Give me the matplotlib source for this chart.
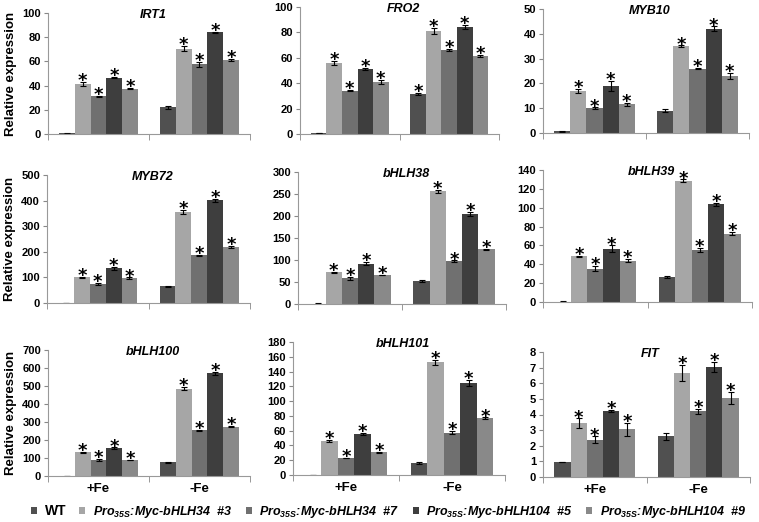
import numpy as np
import matplotlib
matplotlib.use("Agg")
import matplotlib.pyplot as plt

plt.rcParams['font.family'] = ['Liberation Sans', 'DejaVu Sans']
plt.rcParams['mathtext.fontset'] = 'custom'
plt.rcParams['mathtext.it'] = 'Liberation Sans:italic:bold'
plt.rcParams['mathtext.rm'] = 'Liberation Sans:italic:bold'
plt.rcParams['mathtext.default'] = 'it'

# conditions and lines
conditions = ["+Fe", "-Fe"]
lines = ["WT",
         r"Pro$_{35S}$:Myc-bHLH34  #3",
         r"Pro$_{35S}$:Myc-bHLH34  #7",
         r"Pro$_{35S}$:Myc-bHLH104  #5",
         r"Pro$_{35S}$:Myc-bHLH104  #9"]
colors = ["#505050", "#a6a6a6", "#707070", "#3e3e3e", "#898989"]

# values: 5 lines under +Fe, then 5 lines under -Fe
IRT1 = [0.5, 41.5, 31, 46.5, 37.5, 22, 70.5, 57.5, 84, 61]
IRT1_err = [0.2, 1.5, 0.5, 0.5, 0.5, 1, 2, 2, 0.5, 1]
FRO2 = [1, 56, 34, 51.5, 41, 31.5, 81, 66, 84.5, 61.5]
FRO2_err = [0.1, 1.5, 0.5, 0.8, 1.5, 0.7, 2.5, 1, 1.5, 0.8]
MYB10 = [0.7, 17, 10, 19, 11.5, 9, 35, 26, 42, 23]
MYB10_err = [0.1, 0.7, 0.3, 2, 0.7, 0.7, 0.3, 0.2, 1, 1.2]
MYB72 = [1, 101, 76, 135, 97, 65, 356, 186, 402, 218]
MYB72_err = [0.2, 2, 4, 5, 3, 2, 8, 3, 6, 5]
bHLH38 = [1, 72, 58, 92, 66, 52, 256, 97, 205, 124]
bHLH38_err = [0.2, 1, 4, 4, 1, 3, 4, 2, 4, 2]
bHLH39 = [0.5, 48.5, 35.5, 56.5, 44, 26.5, 128.5, 55.5, 103.5, 72.5]
bHLH39_err = [0.1, 0.5, 3, 3.5, 2, 0.7, 1.5, 2, 2, 1.5]
bHLH100 = [1, 131, 91, 155, 89, 76, 485, 253, 571, 273]
bHLH100_err = [0.2, 3, 5, 4, 2, 1, 8, 3, 8, 3]
bHLH101 = [0.3, 45.5, 23, 55.5, 30.5, 16, 152.5, 57.5, 124.5, 77]
bHLH101_err = [0.1, 1.5, 0.5, 1.5, 1, 1, 3, 2.5, 4.5, 1]
FIT = [0.95, 3.45, 2.4, 4.2, 3.05, 2.6, 6.65, 4.2, 7.05, 5.05]
FIT_err = [0.02, 0.3, 0.2, 0.07, 0.4, 0.2, 0.5, 0.17, 0.3, 0.4]

stars_default = [0, 1, 1, 1, 1, 0, 1, 1, 1, 1]
stars_FRO2 = [0, 1, 1, 1, 1, 1, 1, 1, 1, 1]

panels = [
    ("IRT1", IRT1, IRT1_err, stars_default, 100, 20),
    ("FRO2", FRO2, FRO2_err, stars_FRO2, 100, 20),
    ("MYB10", MYB10, MYB10_err, stars_default, 50, 10),
    ("MYB72", MYB72, MYB72_err, stars_default, 500, 100),
    ("bHLH38", bHLH38, bHLH38_err, stars_default, 300, 50),
    ("bHLH39", bHLH39, bHLH39_err, stars_default, 140, 20),
    ("bHLH100", bHLH100, bHLH100_err, stars_default, 700, 100),
    ("bHLH101", bHLH101, bHLH101_err, stars_default, 180, 20),
    ("FIT", FIT, FIT_err, stars_default, 8, 1),
]

# axes boxes in pixels: left, top, right, bottom
boxes = [
    (48, 13, 250, 134), (300, 7, 499, 134), (543, 9, 749, 133),
    (47, 175, 250, 303), (298, 172, 506, 304), (543, 170, 752, 302),
    (48, 350, 250, 476), (293, 342, 505, 475), (543, 352, 750, 477),
]

W, H = 759, 522
fig = plt.figure(figsize=(W / 100, H / 100), dpi=100)

width = 0.156
bar_handles = None
for k, (name, vals, errs, stars, ymax, ystep) in enumerate(panels):
    l, t, r, b = boxes[k]
    ax = fig.add_axes([l / W, 1 - b / H, (r - l) / W, (b - t) / H])
    vals = np.array(vals)
    errs = np.array(errs)
    handles = []
    for i in range(5):
        xs = np.array([0.5, 1.5]) + (i - 2) * width
        ys = vals[[i, i + 5]]
        es = errs[[i, i + 5]]
        h = ax.bar(xs, ys, width=width, color=colors[i], label=lines[i])
        handles.append(h)
        ax.errorbar(xs, ys, yerr=es, fmt="none", ecolor="black",
                    elinewidth=0.8, capsize=2, capthick=0.8)
        for j in range(2):
            if stars[i + 5 * j]:
                ax.annotate("*", (xs[j], ys[j] + es[j]), xytext=(0, -3),
                            textcoords="offset points", ha="center",
                            va="baseline", fontsize=13, fontweight="bold",
                            family="DejaVu Sans")
    if bar_handles is None:
        bar_handles = handles
    ax.set_xlim(0, 2)
    ax.set_ylim(0, ymax)
    ax.set_yticks(np.arange(0, ymax + ystep / 2, ystep))
    ax.set_xticks([0, 1, 2], minor=True)
    ax.tick_params(axis="x", which="minor", length=4, color="#888888")
    ax.set_xticks([0.5, 1.5])
    if k >= 6:
        ax.set_xticklabels(conditions, fontsize=9.5, fontweight="bold")
    else:
        ax.set_xticklabels([])
    ax.tick_params(axis="x", which="major", length=0, pad=5)
    ax.tick_params(axis="y", length=3, color="#888888", labelsize=8, pad=2)
    for lab in ax.get_yticklabels():
        lab.set_fontweight("bold")
    for s in ["top", "right"]:
        ax.spines[s].set_visible(False)
    for s in ["left", "bottom"]:
        ax.spines[s].set_color("#999999")
        ax.spines[s].set_linewidth(0.8)
    ax.patch.set_alpha(0)
    ax.text(0.52, 0.985, name, transform=ax.transAxes, ha="center", va="center",
            fontsize=9, fontweight="bold", fontstyle="italic")
    if k % 3 == 0:
        ax.set_ylabel("Relative expression", fontsize=9.5, fontweight="bold",
                      labelpad=4)

fig.legend(handles=bar_handles, labels=lines, loc="center",
           bbox_to_anchor=(0.512, 1 - 512 / H), ncol=5, frameon=False,
           handlelength=0.5, handleheight=0.5, handletextpad=0.6,
           columnspacing=1.05,
           prop={"size": 9, "weight": "bold", "style": "italic"})
leg = fig.legends[0]
leg.get_texts()[0].set_fontstyle("normal")
leg.get_texts()[0].set_fontsize(10)

fig.savefig("out.png", dpi=100)
